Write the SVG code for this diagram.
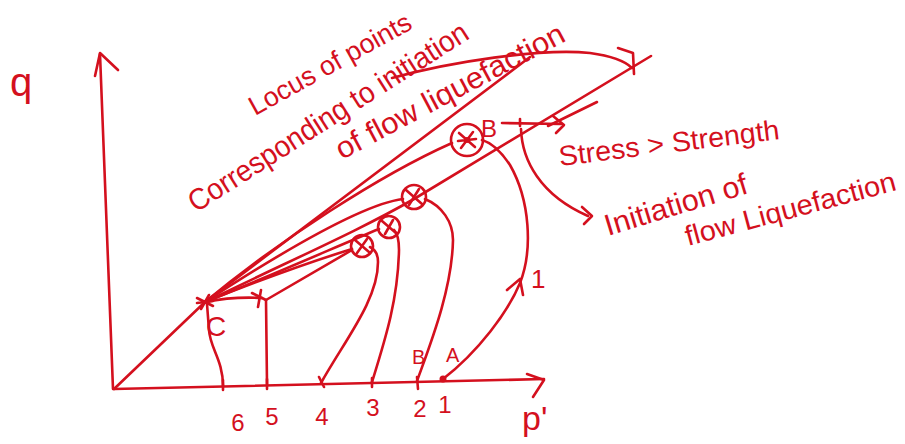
<svg xmlns="http://www.w3.org/2000/svg" width="905" height="444" viewBox="0 0 905 444">
<style>
.s{fill:none;stroke:#d4101e;stroke-width:2.6;stroke-linecap:round;stroke-linejoin:round}
.t{fill:#d4101e;font-family:"Liberation Sans",Arial,sans-serif}
.n{font-size:24px;text-anchor:middle}
</style>
<rect width="905" height="444" fill="#ffffff"/>
<g id="axes">
<path class="s" d="M113,389 L100,54"/>
<path class="s" d="M95,76 L100,53 L118,70"/>
<path class="s" d="M114,389 L544,379"/>
<path class="s" d="M527,374 L544,380 L533,397"/>
<text class="t" x="10" y="96" font-size="40">q</text>
<text class="t" x="522" y="430" font-size="34">p'</text>
</g>
<g id="connectors">
<path class="s" d="M114,389 L205,302"/>
<path class="s" d="M205,302 L530,57"/>
<path class="s" d="M205,302 C280,240 380,175 452,143"/>
<path class="s" d="M205,302 C300,256 360,230 414,199 L651,56"/>
<path class="s" d="M403,199 C370,203 300,240 205,302"/>
<path class="s" d="M379,229 C340,245 280,272 205,302"/>
<path class="s" d="M352,249 C310,262 260,280 205,302"/>
<path class="s" d="M205,302 C225,298 245,297 262,298"/>
<path class="s" d="M266,300 L352,250"/>
<path class="s" d="M223,386 C223,360 210,348 209,330 L207,304"/>
<path class="s" d="M267,384 L266,300"/>
<path class="s" d="M321,383 C345,340 378,300 378,262 C378,253 374,249 370,247"/>
<path class="s" d="M372,382 C385,340 398,300 399,250 C399,240 397,233 394,230"/>
<path class="s" d="M417,381 C430,345 452,290 453,240 C453,222 442,206 425,199"/>
<path class="s" d="M443,379 C478,352 508,312 520,283 C533,250 530,200 510,165 C500,150 492,143 482,140"/>
<path class="s" d="M507,290 L520,279 L523,295"/>
<path class="s" d="M392,78 C450,62 540,48 590,53 C612,56 626,62 632,68"/>
<path class="s" d="M618,48 L633,53 L634,74"/>
<path class="s" d="M502,123 L561,124"/>
<path class="s" d="M520,119 L520,126"/>
<path class="s" d="M553,116 L564,125 L556,133"/>
<path class="s" d="M597,102 L548,126"/>
<path class="s" d="M521,129 C522,160 540,195 588,216"/>
<path class="s" d="M582,207 L592,216 L584,224"/>
</g>
<g id="node-C">
<path class="s" d="M197,298 L213,306 M201,309 L209,295 M197,303 L213,301"/>
<text class="t" x="206" y="336" font-size="28">C</text>
</g>
<g id="node-x5">
<path class="s" d="M252,293 L266,300 M258,307 L261,290"/>
</g>
<g id="node-c1">
<circle class="s" cx="362" cy="246" r="11"/>
<path class="s" d="M355,240 L369,252 M357,253 L367,239"/>
</g>
<g id="node-c2">
<circle class="s" cx="389" cy="227" r="11"/>
<path class="s" d="M382,221 L396,233 M385,234 L393,220"/>
</g>
<g id="node-c3">
<circle class="s" cx="414" cy="197" r="12"/>
<path class="s" d="M406,190 L422,204 M409,205 L419,189"/>
</g>
<g id="node-B">
<circle class="s" cx="467" cy="140" r="16"/>
<path class="s" d="M459,133 L475,147 M461,148 L473,132 M458,141 L476,139"/>
<circle cx="467" cy="140" r="3" fill="#d4101e"/>
<text class="t" x="481" y="137" font-size="24">B</text>
</g>
<g id="axis-points">
<path class="s" d="M223,380 L223,390 M267,379 L267,389 M319,377 L324,387 M372,378 L372,387 M417,377 L418,389"/>
<circle cx="443" cy="379" r="3.5" fill="#d4101e"/>
<text class="t" x="412" y="364" font-size="20">B</text>
<text class="t" x="446" y="362" font-size="20">A</text>
<text class="t n" x="238" y="431" font-size="28">6</text>
<text class="t n" x="272" y="425">5</text>
<text class="t n" x="322" y="425">4</text>
<text class="t n" x="373" y="416">3</text>
<text class="t n" x="420" y="417">2</text>
<text class="t n" x="445" y="413">1</text>
<text class="t" x="531" y="288" font-size="26">1</text>
</g>
<g id="labels">
<text class="t" font-size="27" transform="translate(255,116) rotate(-29)">Locus of points</text>
<text class="t" font-size="30" transform="translate(196,213) rotate(-32.5)" textLength="326" lengthAdjust="spacingAndGlyphs">Corresponding to initiation</text>
<text class="t" font-size="30" transform="translate(342,160) rotate(-28)" textLength="255" lengthAdjust="spacingAndGlyphs">of flow liquefaction</text>
<text class="t" font-size="28" transform="translate(560,166) rotate(-7)" textLength="222" lengthAdjust="spacingAndGlyphs">Stress &gt; Strength</text>
<text class="t" font-size="30" transform="translate(608,236) rotate(-17)" textLength="148" lengthAdjust="spacingAndGlyphs">Initiation of</text>
<text class="t" font-size="28" transform="translate(688,246) rotate(-15)" textLength="217" lengthAdjust="spacingAndGlyphs">flow Liquefaction</text>
</g>
</svg>
